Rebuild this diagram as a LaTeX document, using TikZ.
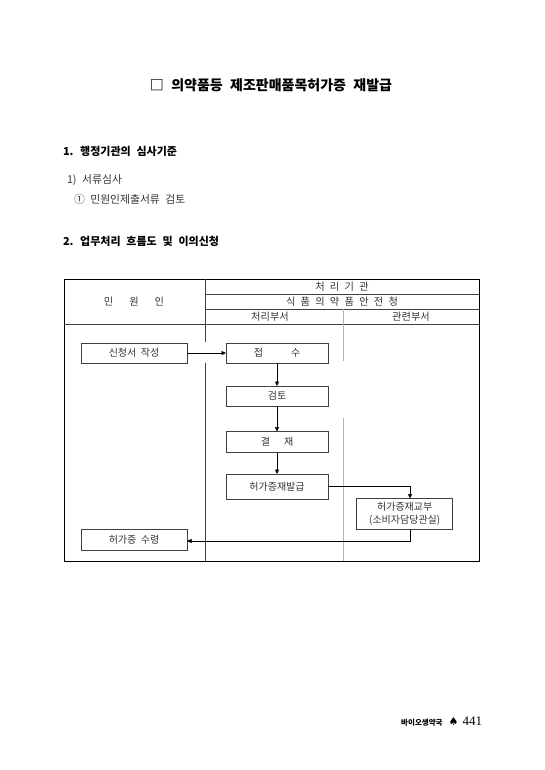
\documentclass[tikz,border=0pt]{standalone}
\usepackage{fontspec}
\setmainfont{Noto Sans CJK KR}
\newfontfamily\kr[WordSpace=1.8]{Noto Sans CJK KR}
\newfontfamily\krh[WordSpace=1.5]{Noto Sans CJK KR}
\newfontfamily\krb{Noto Sans CJK KR}
\newfontfamily\krt[WordSpace=2.3]{Noto Sans CJK KR}
\newfontfamily\djv{DejaVu Sans}
\newfontfamily\lser{Liberation Serif}
\usetikzlibrary{arrows.meta}
\begin{document}
\begin{tikzpicture}[x=1pt,y=-1pt,
  every node/.style={inner sep=0pt,outer sep=0pt},
  bodytxt/.style={font=\kr\fontsize{10.8}{12}\selectfont, text=black!80},
  tabtxt/.style={font=\kr\fontsize{10.2}{12}\selectfont, text=black!80},
  head/.style={font=\krh\bfseries\fontsize{11}{13}\selectfont, anchor=west},
  fbox/.style={draw=black!75, line width=0.6pt, minimum height=20pt, font=\krb\fontsize{10}{12}\selectfont, text=black!80},
  arr/.style={line width=0.5pt, -{Triangle[length=4.5pt,width=4pt]}},
  rule/.style={line width=0.5pt, draw=black!75}]
\path[use as bounding box] (0,0) rectangle (544,770);

\node[font=\krt\bfseries\fontsize{14}{16}\selectfont] (title) at (271,85) {□ 의약품등 제조판매품목허가증 재발급};

\node[head] (s1) at (63,151) {1. 행정기관의 심사기준};
\node[bodytxt, anchor=west] (s11) at (67,180) {1) 서류심사};
\node[bodytxt, anchor=west] (s111) at (74,199) {① 민원인제출서류 검토};
\node[head] (s2) at (63,241) {2. 업무처리 흐름도 및 이의신청};

% table frame
\draw[line width=1pt] (64,279) rectangle (479,561);
\draw[rule] (205,294) -- (479,294);
\draw[rule] (205,309) -- (479,309);
\draw[rule] (64,324) -- (479,324);
\draw[rule] (205,279) -- (205,342);
\draw[rule] (205,363) -- (205,561);
\draw[line width=0.5pt, draw=black!30] (343,309) -- (343,361);
\draw[line width=0.5pt, draw=black!30] (343,418) -- (343,561);

\node[tabtxt] (h1) at (342,286.5) {처 리 기 관};
\node[tabtxt] (h2) at (342,301.5) {식 품 의 약 품 안 전 청};
\node[tabtxt] (h3) at (270,316.5) {처리부서};
\node[tabtxt] (h4) at (411,316.5) {관련부서};
\node[tabtxt] (h0) at (134,301.5) {민\hspace{16pt}원\hspace{16pt}인};

% flow boxes
\node[fbox, minimum width=106pt] (sq) at (134,353) {신청서\hspace{4.5pt}작성};
\node[fbox, minimum width=102pt] (jb) at (277,353) {접\hspace{28pt}수};
\node[fbox, minimum width=102pt] (gt) at (277,396) {검토};
\node[fbox, minimum width=102pt, minimum height=21pt] (gj) at (277,442) {결\hspace{14pt}재};
\node[fbox, minimum width=102pt, minimum height=25pt] (hj) at (277,486.5) {허가증재발급};
\node[fbox, minimum width=96pt, minimum height=31pt, align=center] (hg) at (404.7,514) {허가증재교부\\[1pt](소비자담당관실)};
\node[fbox, minimum width=106pt, minimum height=21pt] (hs) at (134,540) {허가증\hspace{4.5pt}수령};

\draw[arr] (sq.east) -- (jb.west);
\draw[arr] (jb.south) -- (gt.north);
\draw[arr] (gt.south) -- (gj.north);
\draw[arr] (gj.south) -- (hj.north);
\draw[arr] (hj.east) -| ([xshift=5.3pt]hg.north);
\draw[arr] ([xshift=5.3pt]hg.south) |- ([yshift=-1pt]hs.east);

% footer
\node[anchor=east] (foot) at (482,722) {{\krb\bfseries\fontsize{7.5}{9}\selectfont 바이오생약국}\hspace{6pt}{\djv\fontsize{11}{12}\selectfont ♠}\hspace{4pt}{\lser\fontsize{13}{14}\selectfont 441}};
\end{tikzpicture}
\end{document}
